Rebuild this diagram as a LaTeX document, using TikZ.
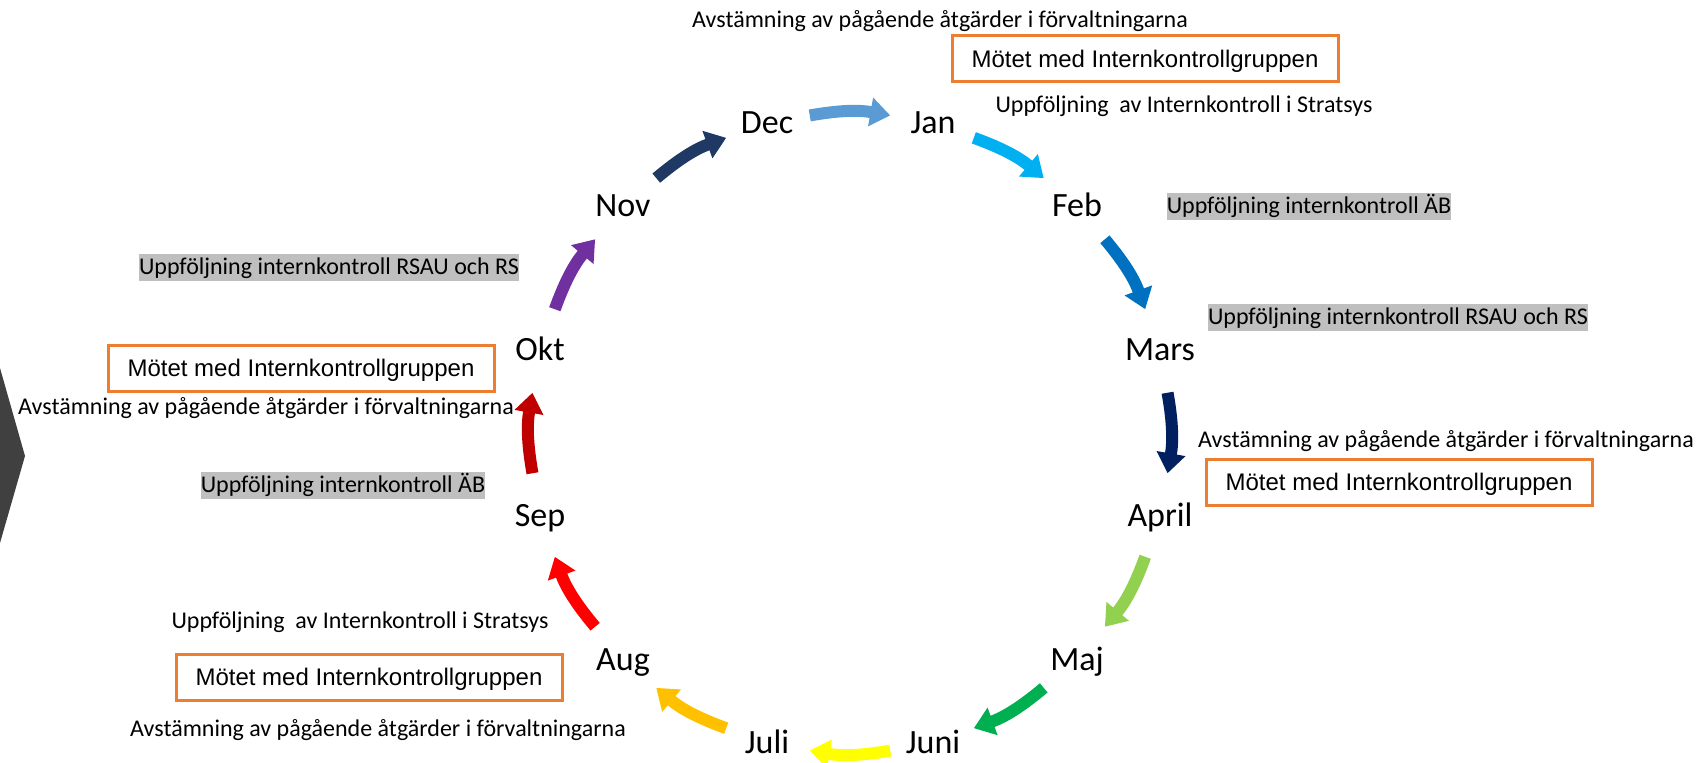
\documentclass[tikz,border=0pt]{standalone}
\usepackage{fontspec}
\setmainfont{Carlito}
\newfontfamily\arialfont{Liberation Sans}
\usepackage{xcolor}
\usepackage{tikz}
\usetikzlibrary{arrows.meta}

\definecolor{meetorange}{HTML}{ED7D31}
\definecolor{hlgray}{RGB}{191,191,191}
\definecolor{chevgray}{HTML}{404040}
\definecolor{arNov}{HTML}{1F3864}
\definecolor{arDec}{HTML}{5B9BD5}
\definecolor{arJan}{HTML}{00B0F0}
\definecolor{arFeb}{HTML}{0070C0}
\definecolor{arMar}{HTML}{002060}
\definecolor{arApr}{HTML}{92D050}
\definecolor{arMaj}{HTML}{00B050}
\definecolor{arJun}{HTML}{FFFF00}
\definecolor{arJul}{HTML}{FFC000}
\definecolor{arAug}{HTML}{FF0000}
\definecolor{arSep}{HTML}{C00000}
\definecolor{arOkt}{HTML}{7030A0}

\begin{document}
\begin{tikzpicture}[x=0.5pt, y=0.5pt,
    month/.style={circle, minimum size=43pt, inner sep=0pt, text height=10.95pt, text depth=0pt, font=\fontsize{17}{20}\selectfont},
    note/.style={inner sep=0pt, text height=10.56pt, text depth=2.94pt, font=\fontsize{12}{14}\selectfont},
    hl/.style={note, fill=hlgray},
    meet/.style={draw=meetorange, line width=1.5pt, minimum width=193pt, minimum height=23pt, inner sep=0pt, text height=8.6pt, text depth=0pt, font=\arialfont\fontsize{12}{14}\selectfont},
    arr/.style={line width=6pt, -{Triangle[length=10pt, width=14pt]}, bend left=10}]
        \useasboundingbox (0,0) rectangle (1700,762);
        \fill[chevgray] (0,394) -- (25,306) -- (0,219) -- cycle;

        % months round the year
        \node[month] (dec) at (767,639) {Dec};
        \node[month] (jan) at (933,639) {Jan};
        \node[month] (feb) at (1077,556) {Feb};
        \node[month] (mars) at (1160,412) {Mars};
        \node[month] (apr) at (1160,246) {April};
        \node[month] (maj) at (1077,102) {Maj};
        \node[month] (jun) at (933,19) {Juni};
        \node[month] (jul) at (767,19) {Juli};
        \node[month] (aug) at (623,102) {Aug};
        \node[month] (sep) at (540,246) {Sep};
        \node[month] (okt) at (540,412) {Okt};
        \node[month] (nov) at (623,556) {Nov};

        % activities
        \node[note] (avTop) at (940,742) {Avstämning av pågående åtgärder i förvaltningarna};
        \node[meet] (motTop) at (1145,703) {Mötet med Internkontrollgruppen};
        \node[note] (strTop) at (1184,657) {Uppföljning\ \ av Internkontroll i Stratsys};
        \node[hl] (ufFeb) at (1309,556) {Uppföljning internkontroll ÄB};
        \node[hl] (ufMars) at (1398,445) {Uppföljning internkontroll RSAU och RS};
        \node[note] (avApr) at (1446,322) {Avstämning av pågående åtgärder i förvaltningarna};
        \node[meet] (motApr) at (1399,280) {Mötet med Internkontrollgruppen};
        \node[hl] (ufNov) at (329,495) {Uppföljning internkontroll RSAU och RS};
        \node[meet] (motOkt) at (301,394) {Mötet med Internkontrollgruppen};
        \node[note] (avOkt) at (266,355) {Avstämning av pågående åtgärder i förvaltningarna};
        \node[hl] (ufSep) at (343,277) {Uppföljning internkontroll ÄB};
        \node[note] (strAug) at (360,141) {Uppföljning\ \ av Internkontroll i Stratsys};
        \node[meet] (motAug) at (369,85) {Mötet med Internkontrollgruppen};
        \node[note] (avAug) at (378,33) {Avstämning av pågående åtgärder i förvaltningarna};

        % arrows between months
        \draw[arr, arNov] (nov) to (dec);
        \draw[arr, arDec] (dec) to (jan);
        \draw[arr, arJan] (jan) to (feb);
        \draw[arr, arFeb] (feb) to (mars);
        \draw[arr, arMar] (mars) to (apr);
        \draw[arr, arApr] (apr) to (maj);
        \draw[arr, arMaj] (maj) to (jun);
        \draw[arr, arJun] (jun) to (jul);
        \draw[arr, arJul] (jul) to (aug);
        \draw[arr, arAug] (aug) to (sep);
        \draw[arr, arSep] (sep) to (okt);
        \draw[arr, arOkt] (okt) to (nov);
      \end{tikzpicture}
\end{document}
